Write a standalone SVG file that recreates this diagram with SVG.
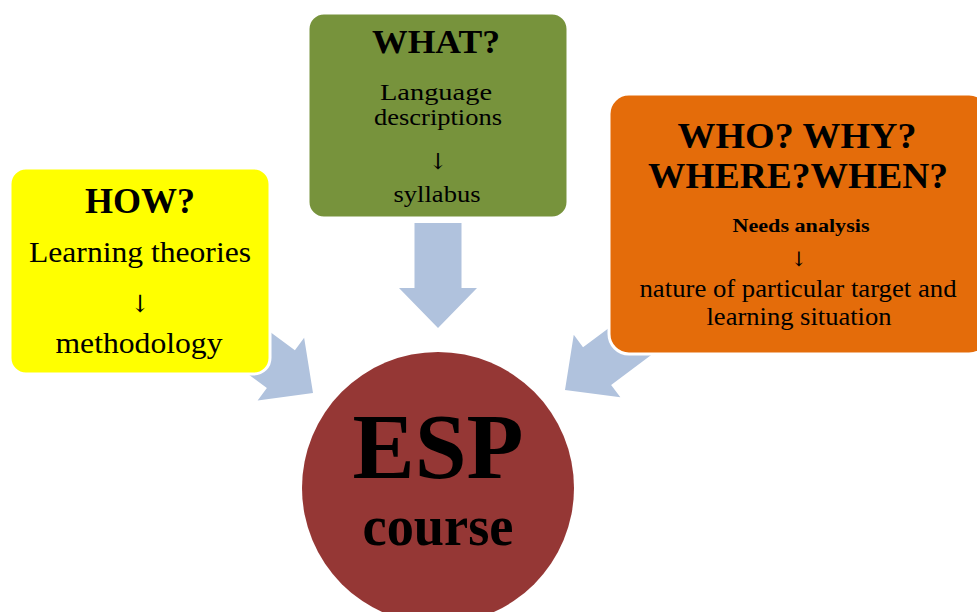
<svg xmlns="http://www.w3.org/2000/svg" width="977" height="612" viewBox="0 0 977 612">
  <defs>
    <path id="arrow" d="M -110,-23.5 H -40 V -39 L 0,0 L -40,39 V 23.5 H -110 Z"/>
  </defs>
  <style>
    .arr { fill: #B0C2DD; }
    .box { stroke: #FFFFFF; stroke-width: 3; }
    text { font-family: "Liberation Serif", "Times New Roman", serif; fill: #000000; text-anchor: middle; }
    .b { font-weight: bold; }
    .ar { font-family: "DejaVu Serif", "Liberation Serif", serif; }
  </style>
  <rect width="977" height="612" fill="#FFFFFF"/>
  <g id="connectors">
    <path class="arr" d="M 414.5,223 H 461.5 V 288 H 477 L 438,328 L 399,288 H 414.5 Z"/>
    <use href="#arrow" class="arr" transform="translate(313,393) rotate(36.6)"/>
    <use href="#arrow" class="arr" transform="translate(565,390) rotate(143.3)"/>
  </g>
  <g id="how">
    <rect class="box" x="10" y="168" width="260" height="206" rx="16" fill="#FFFF00"/>
    <text class="b" x="140" y="213" font-size="36">HOW?</text>
    <text x="140" y="262" font-size="30" textLength="222" lengthAdjust="spacingAndGlyphs">Learning theories</text>
    <text class="ar" x="140" y="312" font-size="24">↓</text>
    <text x="139" y="353" font-size="30" textLength="167" lengthAdjust="spacingAndGlyphs">methodology</text>
  </g>
  <g id="what">
    <rect class="box" x="308" y="13" width="260" height="205" rx="16" fill="#77933C"/>
    <text class="b" x="436" y="53" font-size="34" textLength="128" lengthAdjust="spacingAndGlyphs">WHAT?</text>
    <text x="436" y="100" font-size="24" textLength="112" lengthAdjust="spacingAndGlyphs">Language</text>
    <text x="438" y="125" font-size="24" textLength="128" lengthAdjust="spacingAndGlyphs">descriptions</text>
    <text class="ar" x="438" y="169" font-size="22">↓</text>
    <text x="437" y="202" font-size="24" textLength="87" lengthAdjust="spacingAndGlyphs">syllabus</text>
  </g>
  <g id="who">
    <rect class="box" x="609" y="94" width="380" height="260" rx="20" fill="#E46C0A"/>
    <text class="b" x="797" y="148" font-size="35" textLength="239" lengthAdjust="spacingAndGlyphs">WHO? WHY?</text>
    <text class="b" x="798" y="188" font-size="35" textLength="300" lengthAdjust="spacingAndGlyphs">WHERE?WHEN?</text>
    <text class="b" x="801" y="232" font-size="18" textLength="137" lengthAdjust="spacingAndGlyphs">Needs analysis</text>
    <text class="ar" x="799" y="266" font-size="20">↓</text>
    <text x="798" y="297" font-size="25" textLength="317" lengthAdjust="spacingAndGlyphs">nature of particular target and</text>
    <text x="799" y="325" font-size="25" textLength="185" lengthAdjust="spacingAndGlyphs">learning situation</text>
  </g>
  <g id="esp">
    <circle cx="438" cy="488" r="136" fill="#953735"/>
    <text class="b" x="438" y="478" font-size="94" textLength="171" lengthAdjust="spacingAndGlyphs">ESP</text>
    <text class="b" x="438" y="545" font-size="56" textLength="151" lengthAdjust="spacingAndGlyphs">course</text>
  </g>
</svg>
